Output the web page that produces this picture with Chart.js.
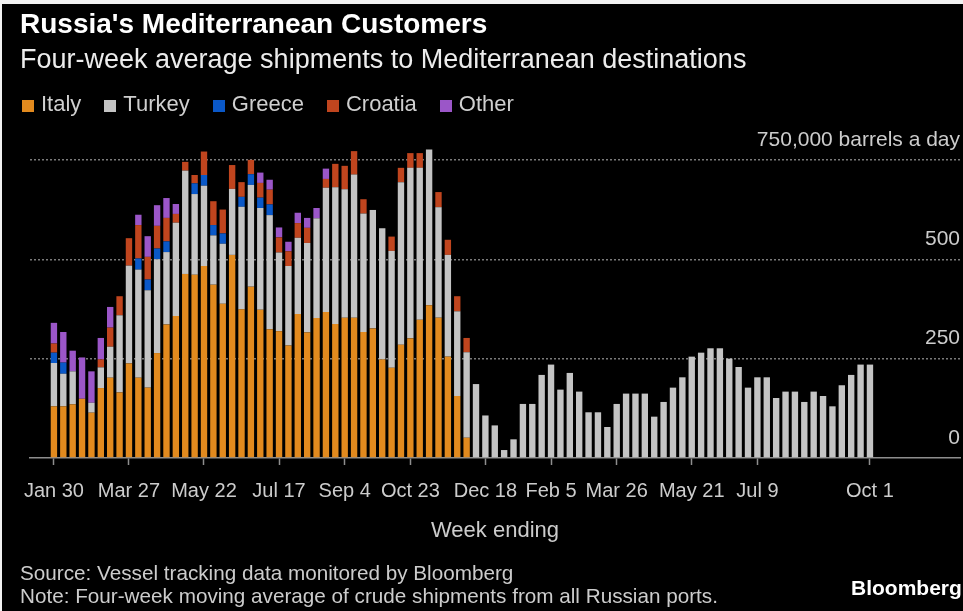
<!DOCTYPE html>
<html>
<head>
<meta charset="utf-8">
<title>Russia's Mediterranean Customers</title>
<script src="https://cdn.jsdelivr.net/npm/chart.js@4.4.1/dist/chart.umd.min.js"></script>
<style>
  html, body { margin: 0; padding: 0; }
  body {
    width: 963px; height: 611px; position: relative; overflow: hidden;
    background: #f2f2f2;
    font-family: 'Liberation Sans', Arial, sans-serif;
  }
  #frame { position: absolute; left: 2px; top: 4px; width: 961px; height: 607px; background: #000; }
  #chart { position: absolute; left: 0; top: 0; }
  .txt { position: absolute; white-space: nowrap; line-height: 1; }
  #title { left: 20px; top: 10px; font-size: 28px; font-weight: bold; color: #ffffff; }
  #subtitle { left: 20px; top: 46px; font-size: 27px; color: #ececec; }
  #legend { left: 22px; top: 93px; font-size: 22px; color: #cfcfcf; display: flex; align-items: center; }
  #legend .item { display: flex; align-items: center; margin-right: 23px; }
  #legend .box { width: 12px; height: 12px; margin-right: 7px; margin-top: 3px; }
  #source { left: 20px; top: 563px; font-size: 20.7px; color: #cccccc; }
  #note { left: 20px; top: 586px; font-size: 20.7px; color: #cccccc; }
  #brand { left: 851px; top: 577px; font-size: 21px; font-weight: bold; color: #ffffff; }
</style>
</head>
<body>
<div id="frame"><canvas id="chart" width="961" height="607"></canvas></div>
<div class="txt" id="title">Russia's Mediterranean Customers</div>
<div class="txt" id="subtitle">Four-week average shipments to Mediterranean destinations</div>
<div class="txt" id="legend"></div>
<div class="txt" id="source">Source: Vessel tracking data monitored by Bloomberg</div>
<div class="txt" id="note">Note: Four-week moving average of crude shipments from all Russian ports.</div>
<div class="txt" id="brand">Bloomberg</div>
<script>
// Week-ending dates, one bar per week
const weeks = [
  '2022-01-30','2022-02-06','2022-02-13','2022-02-20','2022-02-27','2022-03-06','2022-03-13','2022-03-20',
  '2022-03-27','2022-04-03','2022-04-10','2022-04-17','2022-04-24','2022-05-01','2022-05-08','2022-05-15',
  '2022-05-22','2022-05-29','2022-06-05','2022-06-12','2022-06-19','2022-06-26','2022-07-03','2022-07-10',
  '2022-07-17','2022-07-24','2022-07-31','2022-08-07','2022-08-14','2022-08-21','2022-08-28','2022-09-04',
  '2022-09-11','2022-09-18','2022-09-25','2022-10-02','2022-10-09','2022-10-16','2022-10-23','2022-10-30',
  '2022-11-06','2022-11-13','2022-11-20','2022-11-27','2022-12-04','2022-12-11','2022-12-18','2022-12-25',
  '2023-01-01','2023-01-08','2023-01-15','2023-01-22','2023-01-29','2023-02-05','2023-02-12','2023-02-19',
  '2023-02-26','2023-03-05','2023-03-12','2023-03-19','2023-03-26','2023-04-02','2023-04-09','2023-04-16',
  '2023-04-23','2023-04-30','2023-05-07','2023-05-14','2023-05-21','2023-05-28','2023-06-04','2023-06-11',
  '2023-06-18','2023-06-25','2023-07-02','2023-07-09','2023-07-16','2023-07-23','2023-07-30','2023-08-06',
  '2023-08-13','2023-08-20','2023-08-27','2023-09-03','2023-09-10','2023-09-17','2023-09-24','2023-10-01'
];

// Labelled weeks on the x axis
const tickWeeks = ['2022-01-30','2022-03-27','2022-05-22','2022-07-17','2022-09-04','2022-10-23',
                   '2022-12-18','2023-02-05','2023-03-26','2023-05-21','2023-07-09','2023-10-01'];

// Thousand barrels a day, four-week average
const italy = [
  130,130,135,149,114,176,202,165,238,202,177,264,336,357,463,461,
  483,436,388,511,374,431,373,324,319,283,362,316,352,367,337,353,
  353,317,326,248,227,285,301,348,384,353,255,156,51,0,0,0,
  0,0,0,0,0,0,0,0,0,0,0,0,0,0,0,0,
  0,0,0,0,0,0,0,0,0,0,0,0,0,0,0,0,
  0,0,0,0,0,0,0,0
];
const turkey = [
  109,82,83,0,25,52,78,194,246,272,245,236,182,235,260,203,
  202,124,151,166,258,256,256,287,198,200,192,225,251,313,344,323,
  360,298,298,330,294,409,429,382,392,278,256,213,215,186,107,82,
  20,47,136,136,209,235,172,214,167,115,115,78,136,162,162,162,
  104,141,177,203,255,265,276,276,250,229,177,203,203,151,167,167,
  141,167,156,130,183,209,235,235
];
const greece = [
  26,28,0,0,0,0,0,0,0,28,27,27,27,0,0,27,
  27,26,26,0,25,27,26,27,0,0,0,0,0,0,0,0,
  0,0,0,0,0,0,0,0,0,0,0,0,0,0,0,0,
  0,0,0,0,0,0,0,0,0,0,0,0,0,0,0,0,
  0,0,0,0,0,0,0,0,0,0,0,0,0,0,0,0,
  0,0,0,0,0,0,0,0
];
const croatia = [
  23,0,0,0,0,20,48,48,69,84,57,57,59,22,22,21,
  59,60,60,60,37,36,37,37,38,37,37,38,0,22,59,59,
  59,36,0,0,36,36,37,37,0,38,38,38,36,0,0,0,
  0,0,0,0,0,0,0,0,0,0,0,0,0,0,0,0,
  0,0,0,0,0,0,0,0,0,0,0,0,0,0,0,0,
  0,0,0,0,0,0,0,0
];
const other = [
  52,77,52,104,79,54,52,0,0,26,52,52,50,25,0,0,
  0,0,0,0,0,0,26,25,25,24,26,25,26,26,0,0,
  0,0,0,0,0,0,0,0,0,0,0,0,0,0,0,0,
  0,0,0,0,0,0,0,0,0,0,0,0,0,0,0,0,
  0,0,0,0,0,0,0,0,0,0,0,0,0,0,0,0,
  0,0,0,0,0,0,0,0
];

const yTicks = [0, 250, 500, 750];

const series = [
  { name: 'Italy',   values: italy,   color: '#e28a1e' },
  { name: 'Turkey',  values: turkey,  color: '#c4c4c4' },
  { name: 'Greece',  values: greece,  color: '#0a58c8' },
  { name: 'Croatia', values: croatia, color: '#c0451e' },
  { name: 'Other',   values: other,   color: '#9b56c8' }
];

const MONTHS = ['Jan','Feb','Mar','Apr','May','Jun','Jul','Aug','Sep','Oct','Nov','Dec'];
function shortDate(iso) {
  const [y, m, d] = iso.split('-').map(Number);
  return MONTHS[m - 1] + ' ' + d;
}

// Legend row
const legendEl = document.getElementById('legend');
series.forEach(s => {
  const item = document.createElement('span');
  item.className = 'item';
  const box = document.createElement('span');
  box.className = 'box';
  box.style.background = s.color;
  item.appendChild(box);
  item.appendChild(document.createTextNode(s.name));
  legendEl.appendChild(item);
});

const FONT = "'Liberation Sans', Arial, sans-serif";
const LABEL = '#cccccc';

new Chart(document.getElementById('chart'), {
  type: 'bar',
  data: {
    datasets: series.map(s => ({
      label: s.name,
      data: s.values.map((v, i) => ({ x: i, y: v })),
      backgroundColor: s.color,
      borderWidth: 0,
      barPercentage: 0.68,
      categoryPercentage: 1.0
    }))
  },
  options: {
    responsive: false,
    devicePixelRatio: 1,
    animation: false,
    layout: { padding: { left: 28, right: 3, top: 136, bottom: 53 } },
    plugins: { legend: { display: false }, tooltip: { enabled: false } },
    scales: {
      x: {
        type: 'linear',
        stacked: true,
        offset: false,
        min: -2.55,
        max: 96.6,
        afterBuildTicks: scale => {
          scale.ticks = tickWeeks.map(w => ({ value: weeks.indexOf(w) }));
        },
        afterFit: scale => { scale.height = 100; },
        ticks: {
          autoSkip: false,
          maxRotation: 0,
          padding: 14,
          color: LABEL,
          font: { family: FONT, size: 20 },
          callback: v => shortDate(weeks[v])
        },
        grid: {
          offset: false,
          drawOnChartArea: false,
          drawTicks: true,
          tickLength: 7,
          tickWidth: 1.5,
          color: '#8e8e8e'
        },
        border: { display: true, color: '#8e8e8e', width: 1.5 },
        title: {
          display: true,
          text: 'Week ending',
          color: LABEL,
          font: { family: FONT, size: 22 },
          padding: { top: 0, bottom: 14 }
        }
      },
      y: {
        position: 'right',
        stacked: true,
        min: 0,
        max: 800,
        afterBuildTicks: scale => {
          scale.ticks = yTicks.map(v => ({ value: v }));
        },
        afterFit: scale => { scale.width = 0; },
        ticks: {
          mirror: true,
          labelOffset: -20,
          padding: 0,
          color: LABEL,
          font: { family: FONT, size: 21 },
          callback: v => (v === 750 ? '750,000 barrels a day' : String(v))
        },
        grid: {
          drawTicks: false,
          lineWidth: 1.5,
          color: ctx => (ctx.tick && ctx.tick.value === 0 ? 'rgba(0,0,0,0)' : '#7a7a7a')
        },
        border: { display: false, dash: [2, 2] }
      }
    }
  }
});
</script>
</body>
</html>
